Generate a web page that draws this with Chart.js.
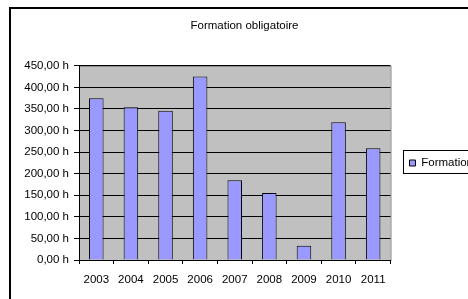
<!DOCTYPE html>
<html>
<head>
<meta charset="utf-8">
<script src="https://cdn.jsdelivr.net/npm/chart.js@4.4.1/dist/chart.umd.min.js"></script>
<style>
  html, body { margin: 0; padding: 0; background: #ffffff; overflow: hidden; }
  #wrap { position: absolute; left: 0; top: 0; width: 490px; height: 299px; }
</style>
</head>
<body>
<div id="wrap"><canvas id="chart" width="490" height="299"></canvas></div>
<script>
// Formation obligatoire - hours per year
const years = ['2003', '2004', '2005', '2006', '2007', '2008', '2009', '2010', '2011'];
const hours = [375, 354, 346, 425, 185, 155, 33, 319, 259];
const seriesName = 'Formation';
const chartTitle = 'Formation obligatoire';

Chart.defaults.font.family = "'Liberation Sans', Arial, sans-serif";
Chart.defaults.font.size = 11.5;
Chart.defaults.color = '#000000';

// Excel style: grey plot area, frame around the chart, box around the legend
const excelLook = {
  id: 'excelLook',
  afterLayout(chart) {
    // legend sits a bit lower and further right than the default
    const lg = chart.legend;
    if (lg) { lg.top += 13; lg.bottom += 13; lg.left += 3; lg.right += 3; }
  },
  beforeDraw(chart) {
    const { ctx, chartArea: a } = chart;
    ctx.save();
    ctx.fillStyle = '#c0c0c0';
    ctx.fillRect(a.left, a.top, a.right - a.left, a.bottom - a.top);
    ctx.strokeStyle = '#808080';
    ctx.lineWidth = 1;
    ctx.strokeRect(a.left + 0.5, a.top + 0.5, a.right - a.left, a.bottom - a.top);
    ctx.restore();
  },
  afterDraw(chart) {
    const ctx = chart.ctx;
    ctx.save();
    ctx.strokeStyle = '#000000';
    ctx.lineWidth = 2;
    ctx.strokeRect(10, 8, 600, 400);
    const hb = chart.legend.legendHitBoxes[0];
    if (hb) {
      ctx.lineWidth = 1;
      ctx.strokeRect(Math.round(hb.left) - 5.5, Math.round(hb.top) - 6.5, 90, 23);
    }
    ctx.restore();
  }
};

new Chart(document.getElementById('chart').getContext('2d'), {
  type: 'bar',
  data: {
    labels: years,
    datasets: [{
      label: seriesName,
      data: hours,
      backgroundColor: '#9999ff',
      borderColor: '#000000',
      borderWidth: 1,
      barPercentage: 0.42,
      categoryPercentage: 1
    }]
  },
  options: {
    responsive: false,
    animation: false,
    layout: { padding: { left: 9, right: 10, top: 10, bottom: 9 } },
    plugins: {
      title: {
        display: true,
        text: chartTitle,
        color: '#000000',
        font: { size: 11.5, weight: 'normal' },
        padding: { top: 9, bottom: 33 }
      },
      legend: {
        position: 'right',
        labels: {
          boxWidth: 6,
          boxHeight: 6,
          padding: 16,
          color: '#000000',
          font: { size: 11.5 }
        }
      },
      tooltip: { enabled: false }
    },
    scales: {
      x: {
        offset: true,
        grid: {
          offset: true,
          drawOnChartArea: false,
          color: '#000000',
          tickLength: 4
        },
        border: { color: '#000000' },
        ticks: { color: '#000000', padding: 9, maxRotation: 0 },
        afterFit(scale) { scale.height = 30; }
      },
      y: {
        min: 0,
        max: 450,
        grid: { color: '#000000', tickLength: 5 },
        border: { color: '#000000' },
        ticks: {
          stepSize: 50,
          color: '#000000',
          padding: 5,
          callback: v => v.toFixed(2).replace('.', ',') + ' h'
        },
        afterFit(scale) { scale.width = 70; }
      }
    }
  },
  plugins: [excelLook]
});
</script>
</body>
</html>
